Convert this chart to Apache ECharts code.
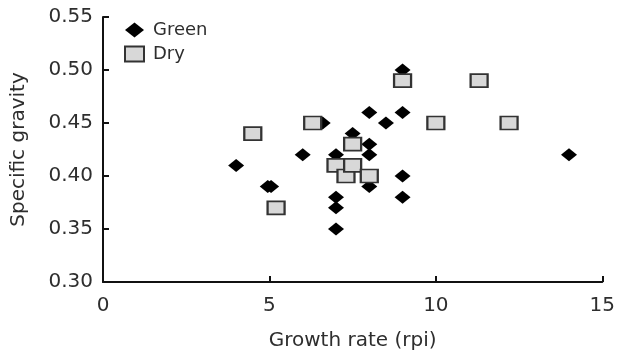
<!DOCTYPE html>
<html><head><meta charset="utf-8">
<script src="https://cdn.jsdelivr.net/npm/echarts@6/dist/echarts.min.js"></script>
<style>html,body{margin:0;padding:0;background:#fff}#c{width:618px;height:356px}</style>
</head><body><div id="c"></div>
<script>
const xTicks = [0, 5, 10, 15];
const yTicks = [0.30, 0.35, 0.40, 0.45, 0.50, 0.55];
const greenX = [4, 4.95, 5.05, 6, 6.6, 7, 7, 7, 7, 7.5, 8, 8, 8, 8, 8.5, 9, 9, 9, 9, 14];
const greenY = [0.41, 0.39, 0.39, 0.42, 0.45, 0.42, 0.38, 0.37, 0.35, 0.44, 0.43, 0.42, 0.46, 0.39, 0.45, 0.46, 0.50, 0.40, 0.38, 0.42];
const dryX = [4.5, 5.2, 6.3, 7, 7.3, 7.5, 7.5, 8, 9, 10, 11.3, 12.2];
const dryY = [0.44, 0.37, 0.45, 0.41, 0.40, 0.41, 0.43, 0.40, 0.49, 0.45, 0.49, 0.45];

const font = 'DejaVu Sans';
const txt = '#2e2e2e';
const chart = echarts.init(document.getElementById('c'), null, {renderer: 'canvas'});
chart.setOption({
  animation: false,
  backgroundColor: '#fff',
  grid: {left: 103, right: 14, top: 17, bottom: 73},
  legend: {
    orient: 'vertical', left: 119, top: 16, itemGap: 6, itemWidth: 19, itemHeight: 15,
    textStyle: {fontFamily: font, fontSize: 18, color: txt, padding: [0, 0, 0, 4]},
    data: ['Green', 'Dry']
  },
  xAxis: {
    type: 'value', min: xTicks[0], max: xTicks[xTicks.length - 1], interval: 5,
    name: 'Growth rate (rpi)', nameLocation: 'middle', nameGap: 49,
    nameTextStyle: {fontFamily: font, fontSize: 20, color: txt},
    axisLine: {show: true, lineStyle: {color: '#111', width: 2}},
    axisTick: {show: true, inside: true, length: 6, lineStyle: {color: '#111', width: 2}},
    axisLabel: {fontFamily: font, fontSize: 20, color: txt, margin: 14,
      formatter: v => xTicks.includes(v) ? String(v) : ''},
    splitLine: {show: false}
  },
  yAxis: {
    type: 'value', min: yTicks[0], max: yTicks[yTicks.length - 1], interval: 0.05,
    name: 'Specific gravity', nameLocation: 'middle', nameGap: 74,
    nameTextStyle: {fontFamily: font, fontSize: 20, color: txt},
    axisLine: {show: true, lineStyle: {color: '#111', width: 2}},
    axisTick: {show: true, inside: true, length: 6, lineStyle: {color: '#111', width: 2}},
    axisLabel: {fontFamily: font, fontSize: 20, color: txt, margin: 10,
      formatter: v => v.toFixed(2)},
    splitLine: {show: false}
  },
  series: [
    {
      name: 'Green', type: 'scatter', symbol: 'diamond', symbolSize: [16, 13],
      itemStyle: {color: '#000', opacity: 1},
      data: greenX.map((x, i) => [x, greenY[i]]), z: 2
    },
    {
      name: 'Dry', type: 'scatter', symbol: 'rect', symbolSize: [17, 13],
      itemStyle: {color: '#d8d8d8', borderColor: '#333', borderWidth: 2, opacity: 1},
      data: dryX.map((x, i) => [x, dryY[i]]), z: 3
    }
  ]
});
</script></body></html>
